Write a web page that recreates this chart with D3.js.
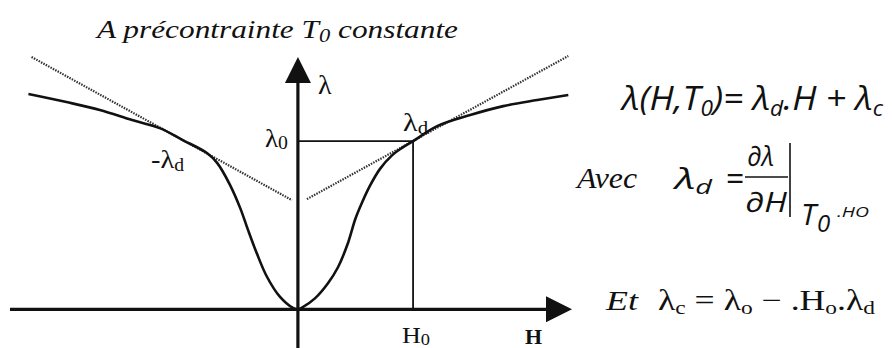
<!DOCTYPE html>
<html>
<head>
<meta charset="utf-8">
<script src="https://cdn.jsdelivr.net/npm/d3@7"></script>
<style>
  body { margin: 0; background: #fff; }
  svg { display: block; }
</style>
</head>
<body>
<div id="chart"></div>
<script>
// Curve (H in units of H0, lambda in units of lambda0)
const curveH = [-2.34, -2.01, -1.72, -1.44, -1.2, -1.0, -0.79, -0.7, -0.59, -0.5, -0.435, -0.357, -0.27, -0.157, -0.043,
                0, 0.035, 0.148, 0.261, 0.348, 0.43, 0.5, 0.557, 0.626, 0.713, 0.817, 0.904, 1.0,
                1.209, 1.496, 1.783, 2.078, 2.348];
const curveLambda = [1.28, 1.232, 1.185, 1.125, 1.077, 1.006, 0.929, 0.869, 0.74, 0.6, 0.475, 0.333, 0.195, 0.075, 0.008,
                     0, 0.01, 0.065, 0.155, 0.25, 0.385, 0.54, 0.635, 0.735, 0.835, 0.915, 0.96, 1.0,
                     1.089, 1.155, 1.208, 1.244, 1.274];

// Tangent (dotted) lines, end points
const tangentRightH = [0.078, 2.348];
const tangentRightLambda = [0.655, 1.506];
const tangentLeftH = [-2.313, -0.052];
const tangentLeftLambda = [1.5, 0.649];

// Operating point
const H0 = 1;
const lambda0 = 1;

// Axis extents
const hDomain = [-2.5, 2.38];
const lambdaDomain = [-0.23, 1.5];

const width = 892;
const height = 348;

const svg = d3.select('#chart').append('svg')
    .attr('width', width)
    .attr('height', height);

const x = d3.scaleLinear().domain(hDomain).range([10, 572]);
const y = d3.scaleLinear().domain(lambdaDomain).range([348, 57]);

const serif = '"Liberation Serif", "Times New Roman", serif';
const sans = '"Open Sans", "Liberation Sans", sans-serif';

// Text with subscripts: parts = [[text, isSub], ...]
function addText(px, py, parts, opts) {
    const t = svg.append('text')
        .attr('x', px)
        .attr('y', py)
        .style('font-family', opts.font || serif)
        .style('font-size', (opts.size || 22) + 'px')
        .style('font-style', opts.italic ? 'italic' : 'normal')
        .style('font-weight', opts.bold ? 'bold' : 'normal')
        .style('fill', '#111');
    let down = 0;
    parts.forEach(([txt, sub]) => {
        const shift = sub ? (opts.subShift || 5) : 0;
        t.append('tspan')
            .attr('dy', shift - down)
            .style('font-size', sub ? (opts.subSize || (opts.size || 22) * 0.7) + 'px' : null)
            .text(txt);
        down = shift;
    });
    if (opts.len) {
        t.attr('textLength', opts.len).attr('lengthAdjust', 'spacingAndGlyphs');
    }
    return t;
}

// Title
addText(97, 38, [['A précontrainte T', false], ['0', true], [' constante', false]],
    { italic: true, size: 25, subSize: 18, len: 361, subShift: 4 });

// Tangent lines (dotted)
const tangentLine = d3.line().x(d => x(d[0])).y(d => y(d[1]));
[[tangentLeftH, tangentLeftLambda], [tangentRightH, tangentRightLambda]].forEach(([hs, ls]) => {
    svg.append('path')
        .attr('d', tangentLine(hs.map((h, i) => [h, ls[i]])))
        .attr('fill', 'none')
        .attr('stroke', '#333')
        .attr('stroke-width', 2.2)
        .attr('stroke-dasharray', '1.5,1.2');
});

// H0 / lambda0 guides
svg.append('line')
    .attr('x1', x(0)).attr('y1', y(lambda0))
    .attr('x2', x(H0)).attr('y2', y(lambda0))
    .attr('stroke', '#111').attr('stroke-width', 1.8);
svg.append('line')
    .attr('x1', x(H0)).attr('y1', y(lambda0))
    .attr('x2', x(H0)).attr('y2', y(0))
    .attr('stroke', '#111').attr('stroke-width', 1.8);

// Main curve
const curve = d3.line()
    .x(d => x(d[0]))
    .y(d => y(d[1]))
    .curve(d3.curveCatmullRom.alpha(0.5));
svg.append('path')
    .attr('d', curve(curveH.map((h, i) => [h, curveLambda[i]])))
    .attr('fill', 'none')
    .attr('stroke', '#111')
    .attr('stroke-width', 2.6);

// Axes with arrow heads
const ax = x(0), ay = y(0);
const tipX = x(hDomain[1]), tipY = y(lambdaDomain[1]);
svg.append('line')
    .attr('x1', x(hDomain[0])).attr('y1', ay)
    .attr('x2', tipX - 24).attr('y2', ay)
    .attr('stroke', '#111').attr('stroke-width', 3.2);
svg.append('line')
    .attr('x1', ax).attr('y1', y(lambdaDomain[0]))
    .attr('x2', ax).attr('y2', tipY + 24)
    .attr('stroke', '#111').attr('stroke-width', 3.2);
svg.append('path')
    .attr('d', `M${tipX},${ay} L${tipX - 26},${ay - 13} L${tipX - 26},${ay + 13} Z`)
    .attr('fill', '#111');
svg.append('path')
    .attr('d', `M${ax},${tipY} L${ax - 13},${tipY + 26} L${ax + 13},${tipY + 26} Z`)
    .attr('fill', '#111');

// Axis labels
addText(ax + 20, 94, [['λ', false]], { size: 28 });
addText(tipX - 47, 344, [['H', false]], { size: 22, bold: true });
addText(x(H0) - 11, 343, [['H', false], ['0', true]], { size: 24, subSize: 17, subShift: 2, len: 28 });
addText(ax - 33, 147, [['λ', false], ['0', true]], { size: 26, subSize: 19, subShift: 2, len: 23 });
addText(x(H0) - 10, 131, [['λ', false], ['d', true]], { size: 26, subSize: 18, subShift: 3, len: 25 });
addText(151, 168, [['-λ', false], ['d', true]], { size: 26, subSize: 18, subShift: 3, len: 33 });

// Formula 1
addText(622, 110, [['λ(H,T', false], ['0', true], [')= λ', false], ['d', true], ['.H + λ', false], ['c', true]],
    { font: sans, italic: true, size: 33, subSize: 21, subShift: 6, len: 261 });

// Formula 2
addText(577, 188, [['Avec', false]], { italic: true, size: 29, len: 60 });
addText(675, 189, [['λ', false], ['d', true]], { font: sans, italic: true, size: 29, subSize: 20, subShift: 5, len: 37 });
addText(726, 190, [['=', false]], { font: sans, size: 32 });
addText(747, 166, [['∂λ', false]], { font: sans, italic: true, size: 28, len: 27 });
svg.append('line')
    .attr('x1', 745).attr('y1', 177).attr('x2', 788).attr('y2', 177)
    .attr('stroke', '#111').attr('stroke-width', 1.6);
addText(745, 212, [['∂H', false]], { font: sans, italic: true, size: 28, len: 42 });
svg.append('line')
    .attr('x1', 790).attr('y1', 143).attr('x2', 790).attr('y2', 217)
    .attr('stroke', '#111').attr('stroke-width', 1.6);
addText(801, 225, [['T', false]], { font: sans, italic: true, size: 30 });
addText(817, 232, [['0', false]], { font: sans, italic: true, size: 24 });
addText(837, 217, [['.HO', false]], { font: sans, italic: true, size: 15, len: 32 });

// Formula 3
addText(606, 310, [['Et', false]], { italic: true, size: 28, len: 32 });
addText(658, 310, [['λ', false], ['c', true], [' = λ', false], ['o', true], [' − .H', false], ['o', true], ['.λ', false], ['d', true]],
    { size: 29, subSize: 19, subShift: 4, len: 217 });
</script>
</body>
</html>
